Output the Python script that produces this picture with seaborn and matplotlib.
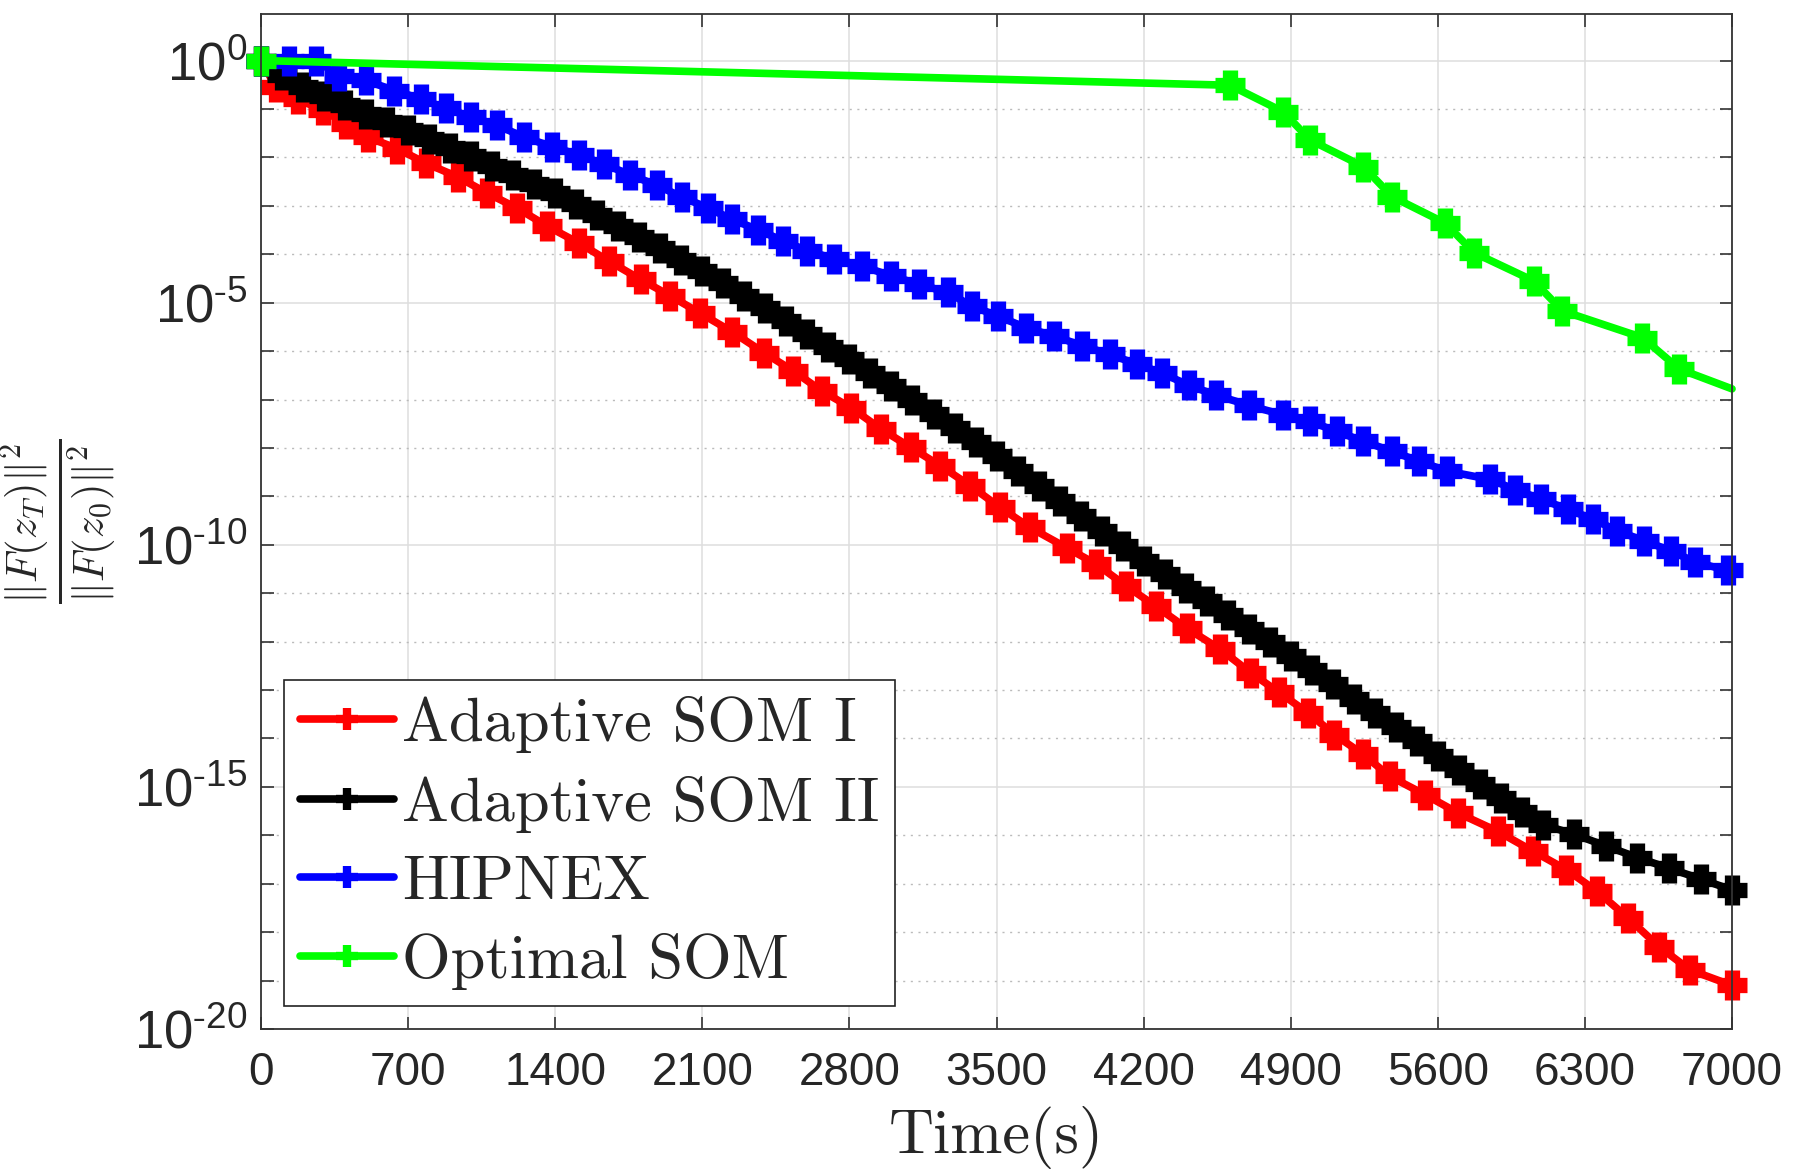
import numpy as np
import pandas as pd
import seaborn as sns
import matplotlib.pyplot as plt
from matplotlib.ticker import FixedLocator, FuncFormatter, NullFormatter

# Time (s) and log10 of ||F(z_T)||^2 / ||F(z_0)||^2
t_som1 = [0, 71, 174, 293, 404, 507, 649, 784, 935, 1077, 1220, 1362, 1513, 1655,
          1806, 1948, 2091, 2241, 2392, 2533, 2667, 2808, 2950, 3092, 3233, 3375,
          3517, 3658, 3833, 3975, 4117, 4258, 4404, 4562, 4709, 4845, 4982, 5108,
          5245, 5371, 5539, 5697, 5886, 6054, 6212, 6359, 6506, 6653, 6800, 7000]
e_som1 = [0.0, -0.55, -0.79, -1.03, -1.30, -1.58, -1.82, -2.12, -2.40, -2.74, -3.05,
          -3.42, -3.77, -4.14, -4.52, -4.86, -5.22, -5.60, -6.03, -6.41, -6.82, -7.17,
          -7.61, -7.99, -8.37, -8.78, -9.23, -9.64, -10.06, -10.40, -10.85, -11.27,
          -11.72, -12.15, -12.64, -13.05, -13.47, -13.92, -14.33, -14.78, -15.16,
          -15.54, -15.92, -16.33, -16.71, -17.16, -17.71, -18.30, -18.78, -19.10]

t_som2 = [0, 100, 200, 300, 400, 500, 600, 700, 800, 900, 1000, 1100, 1200, 1300,
          1400, 1500, 1600, 1700, 1800, 1900, 2000, 2100, 2200, 2300, 2400, 2500,
          2600, 2700, 2800, 2900, 3000, 3100, 3200, 3300, 3400, 3500, 3600, 3700,
          3800, 3900, 4000, 4100, 4200, 4300, 4400, 4500, 4600, 4700, 4800, 4900,
          5000, 5100, 5200, 5300, 5400, 5500, 5600, 5700, 5800, 5900, 6000, 6100,
          6250, 6400, 6550, 6700, 6850, 7000]
e_som2 = [0.0, -0.30, -0.55, -0.74, -0.92, -1.10, -1.27, -1.44, -1.62, -1.80, -1.98,
          -2.17, -2.36, -2.55, -2.74, -2.96, -3.18, -3.41, -3.65, -3.88, -4.11, -4.35,
          -4.60, -4.86, -5.12, -5.38, -5.64, -5.91, -6.17, -6.45, -6.73, -7.02, -7.30,
          -7.59, -7.87, -8.16, -8.47, -8.78, -9.09, -9.40, -9.71, -10.02, -10.33,
          -10.61, -10.89, -11.17, -11.45, -11.73, -12.01, -12.29, -12.59, -12.88,
          -13.18, -13.47, -13.77, -14.06, -14.36, -14.65, -14.94, -15.23, -15.52,
          -15.78, -15.98, -16.22, -16.46, -16.68, -16.90, -17.13]

t_hipnex = [0, 135, 261, 372, 499, 634, 760, 879, 998, 1125, 1251, 1386, 1513, 1632,
            1758, 1885, 2004, 2125, 2242, 2367, 2483, 2600, 2725, 2858, 3000, 3133,
            3267, 3383, 3508, 3642, 3775, 3908, 4042, 4167, 4286, 4416, 4546, 4700,
            4865, 4992, 5118, 5245, 5382, 5508, 5645, 5850, 5967, 6093, 6220, 6337,
            6454, 6581, 6708, 6825, 6980]
e_hipnex = [0.0, 0.0, 0.0, -0.31, -0.41, -0.62, -0.79, -0.99, -1.16, -1.34, -1.58,
            -1.78, -1.95, -2.14, -2.36, -2.58, -2.82, -3.04, -3.28, -3.50, -3.72,
            -3.93, -4.09, -4.24, -4.45, -4.62, -4.79, -5.07, -5.28, -5.52, -5.69,
            -5.89, -6.07, -6.27, -6.45, -6.71, -6.91, -7.12, -7.32, -7.45, -7.66,
            -7.86, -8.07, -8.27, -8.48, -8.65, -8.86, -9.06, -9.27, -9.47, -9.71,
            -9.92, -10.12, -10.36, -10.53]

t_opt = [0, 4611, 4865, 4992, 5246, 5382, 5636, 5773, 6056, 6193, 6573, 6749, 7000]
e_opt = [0.0, -0.51, -1.06, -1.64, -2.19, -2.81, -3.36, -3.97, -4.55, -5.17, -5.72,
         -6.37, -6.78]

x_ticks = [0, 700, 1400, 2100, 2800, 3500, 4200, 4900, 5600, 6300, 7000]
y_major_exp = [-20, -15, -10, -5, 0]

sns.set_style('ticks')
plt.rcParams['font.family'] = ['Liberation Sans', 'DejaVu Sans']
plt.rcParams['mathtext.fontset'] = 'cm'
plt.rcParams['axes.unicode_minus'] = False

fig = plt.figure(figsize=(17.93, 11.72), dpi=100)
ax = fig.add_axes([0.1456, 0.1220, 0.8204, 0.8660])
ax.set_yscale('log')

series = [
    ('Adaptive SOM I', t_som1, e_som1, '#ff0000'),
    ('Adaptive SOM II', t_som2, e_som2, '#000000'),
    ('HIPNEX', t_hipnex, e_hipnex, '#0000ff'),
    ('Optimal SOM', t_opt, e_opt, '#00ff00'),
]

for name, t, e, c in series:
    df = pd.DataFrame({'time': t, 'ratio': 10.0 ** np.array(e)})
    every = list(range(len(t) - 1)) if name == 'Optimal SOM' else None
    sns.lineplot(data=df, x='time', y='ratio', ax=ax, color=c, linewidth=5.5,
                 marker='+', markersize=22, markeredgewidth=11, markeredgecolor=c,
                 markevery=every, estimator=None, sort=False, label=name,
                 clip_on=False)


def exp_label(v, pos):
    k = int(round(np.log10(v)))
    if k < 0:
        return r'$\mathdefault{10^{\text{-}%d}}$' % (-k)
    return r'$\mathdefault{10^{%d}}$' % k


# axes
ax.set_xlim(0, 7000)
ax.set_ylim(1e-20, 10 ** 0.96)
ax.set_xticks(x_ticks)
ax.yaxis.set_major_locator(FixedLocator([10.0 ** k for k in y_major_exp]))
ax.yaxis.set_minor_locator(FixedLocator([10.0 ** k for k in range(-20, 1)]))
ax.yaxis.set_major_formatter(FuncFormatter(exp_label))
ax.yaxis.set_minor_formatter(NullFormatter())
ax.tick_params(which='both', direction='in', top=True, right=True, length=9,
               width=1.2, color='#333333')
ax.tick_params(axis='x', labelsize=33, pad=16)
ax.tick_params(axis='y', labelsize=38, pad=10)
for s in ax.spines.values():
    s.set_color('#333333')
    s.set_linewidth(1.3)

# grid
ax.set_axisbelow(True)
ax.grid(True, which='major', color='#dedede', linewidth=1.1, linestyle='-')
ax.grid(True, which='minor', axis='y', color='#bbbbbb', linewidth=1.0,
        linestyle=(0, (1.5, 4)))

# labels
ax.set_xlabel('Time(s)', fontfamily='cmr10', fontsize=45, labelpad=8)
ax.set_ylabel(r'$\frac{\|F(z_T)\|^2}{\|F(z_0)\|^2}$', fontsize=44)
ax.yaxis.set_label_coords(-0.097, 0.5)

# legend
leg = ax.legend(loc='lower left', prop={'family': 'cmr10', 'size': 45},
                frameon=True, fancybox=False, edgecolor='#222222', framealpha=1,
                borderaxespad=0.37, handlelength=1.5, handletextpad=0.13,
                labelspacing=0.36, borderpad=0.25)
leg.get_frame().set_linewidth(1.2)
for h in leg.legend_handles:
    h.set_markersize(16)
    h.set_markeredgewidth(6)

plt.savefig('out.png', dpi=100)
